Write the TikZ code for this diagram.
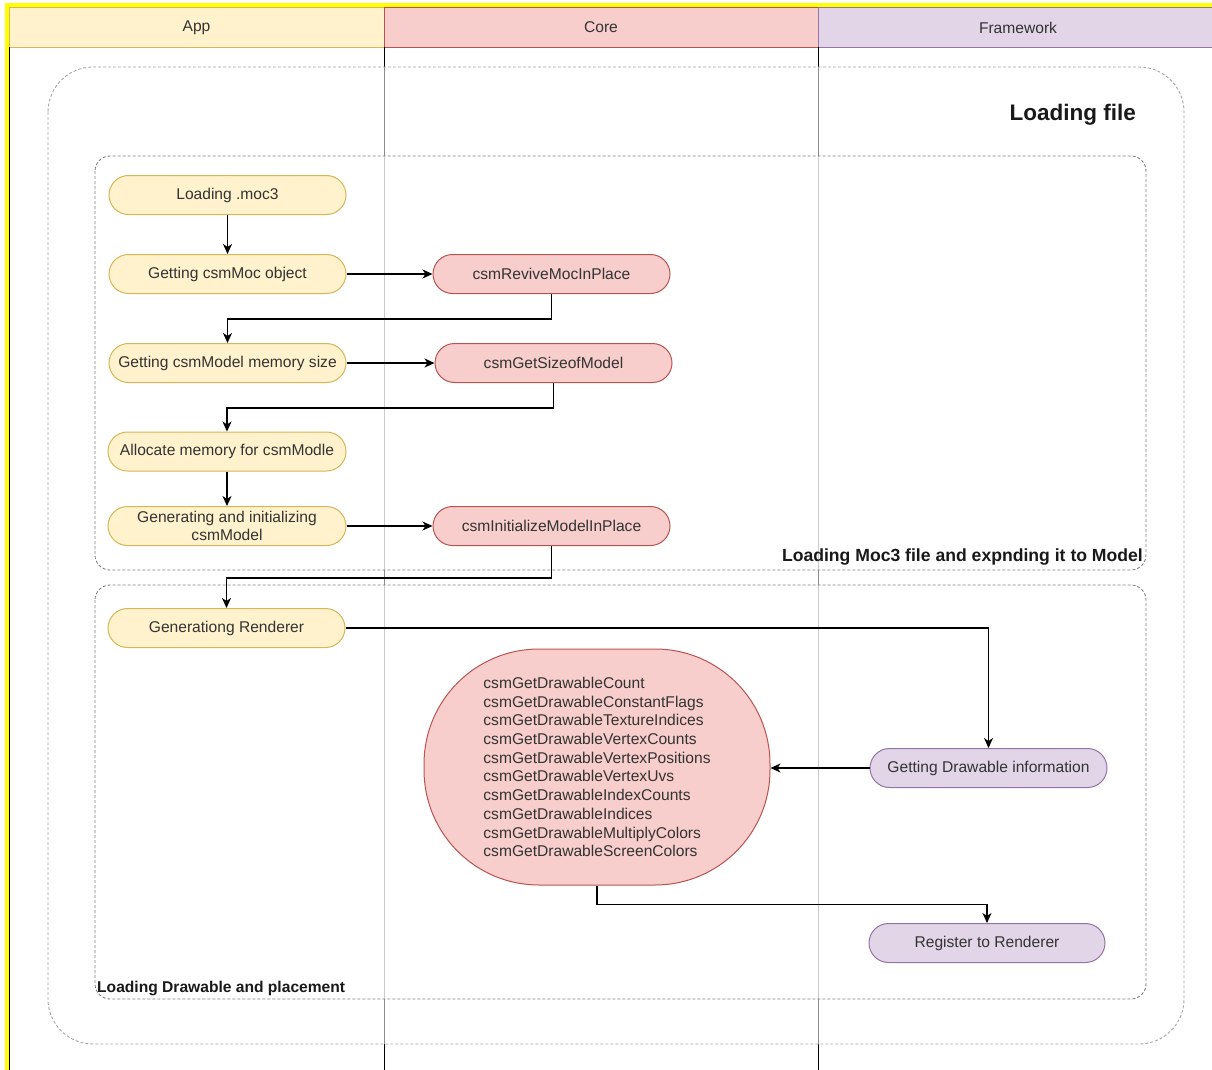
\documentclass[tikz,border=0pt]{standalone}
\usepackage{fontspec}
\setmainfont{Liberation Sans}
\usetikzlibrary{arrows.meta}
\definecolor{appfill}{HTML}{FFF2CC}\definecolor{appdraw}{HTML}{D6B656}
\definecolor{corefill}{HTML}{F8CECC}\definecolor{coredraw}{HTML}{B85450}
\definecolor{fwfill}{HTML}{E1D5E7}\definecolor{fwdraw}{HTML}{9673A6}
\definecolor{txt}{HTML}{333333}
\definecolor{frameyellow}{HTML}{FFFF00}
\tikzset{
  base/.style={font=\fontsize{15.6}{18.7}\selectfont, text=txt},
  pill/.style={base, rectangle, rounded corners=19.5pt, minimum width=237pt, minimum height=39pt, inner sep=0pt, line width=1pt, align=center},
  appnode/.style={pill, fill=appfill, draw=appdraw},
  corenode/.style={pill, fill=corefill, draw=coredraw},
  fwnode/.style={pill, fill=fwfill, draw=fwdraw},
  lanehead/.style={base, rectangle, minimum height=39.5pt, inner sep=0pt, line width=1pt},
  arr/.style={line width=1.6pt, black, -{Stealth[length=10pt,width=9pt,inset=3pt]}},
  group/.style={dashed, dash pattern=on 3pt off 2pt, line width=0.9pt, fill=white, fill opacity=0.55},
  grouplabel/.style={font=\bfseries\fontsize{15.6}{18.7}\selectfont, text=black!90, inner sep=0pt},
}
\begin{document}
\begin{tikzpicture}[x=1pt,y=-1pt]
\useasboundingbox (0,0) rectangle (1212,1070);
% yellow frame
\draw[frameyellow, line width=4pt] (7,1072) -- (7,5) -- (1214,5);
% lane headers
\node[lanehead, fill=appfill, draw=appdraw, minimum width=375pt] (happ) at (196.5,27.5) {App};
\node[lanehead, fill=corefill, draw=coredraw, minimum width=434pt] (hcore) at (601,27.5) {Core};
\node[lanehead, fill=fwfill, draw=fwdraw, minimum width=400pt] (hfw) at (1018,27.5) {Framework};
% lane lines
\draw[black, line width=1.2pt] (9.5,47) -- (9.5,1072);
\draw[black, line width=1pt] (384,47) -- (384,1072);
\draw[black, line width=1pt] (818,47) -- (818,1072);
% groups
\draw[group, draw=black!35, rounded corners=45pt] (48,67) rectangle (1184,1044);
\node[font=\bfseries\fontsize{22.5}{26}\selectfont, text=black!90, anchor=east, inner sep=0pt] (title) at (1136,115) {Loading file};
\draw[group, draw=black!50, rounded corners=15pt] (95,156) rectangle (1146,570);
\node[grouplabel, font=\bfseries\fontsize{17.6}{20}\selectfont, anchor=east] (g1label) at (1143,556.5) {Loading Moc3 file and expnding it to Model};
\draw[group, draw=black!50, rounded corners=15pt] (95,585) rectangle (1146,999);
\node[grouplabel, anchor=west] (g2label) at (97,988) {Loading Drawable and placement};
% nodes
\node[appnode] (load) at (227.5,195) {Loading .moc3};
\node[appnode] (getmoc) at (227.5,274) {Getting csmMoc object};
\node[corenode] (revive) at (551.5,274) {csmReviveMocInPlace};
\node[appnode] (getsize) at (227.5,363) {Getting csmModel memory size};
\node[corenode] (sizeof) at (553.5,363) {csmGetSizeofModel};
\node[appnode, minimum width=238pt] (alloc) at (227,451.5) {Allocate memory for csmModle};
\node[appnode, minimum width=238pt] (geninit) at (227,526) {Generating and initializing\\csmModel};
\node[corenode] (initmodel) at (551.5,526) {csmInitializeModelInPlace};
\node[appnode] (genrend) at (226.5,628) {Generationg Renderer};
\node[base, rectangle, rounded corners=115pt, fill=corefill, draw=coredraw, line width=1pt, minimum width=346pt, minimum height=236pt, align=left, inner sep=0pt] (drawfuncs) at (597,767) {csmGetDrawableCount\\csmGetDrawableConstantFlags\\csmGetDrawableTextureIndices\\csmGetDrawableVertexCounts\\csmGetDrawableVertexPositions\\csmGetDrawableVertexUvs\\csmGetDrawableIndexCounts\\csmGetDrawableIndices\\csmGetDrawableMultiplyColors\\csmGetDrawableScreenColors};
\node[fwnode] (getdraw) at (988.5,768) {Getting Drawable information};
\node[fwnode, minimum width=236pt] (reg) at (987,943) {Register to Renderer};
% connectors
\draw[arr] (load.south) -- (getmoc.north);
\draw[arr] (getmoc.east) -- (revive.west);
\draw[arr] (revive.south) -- ++(0,25) -| (getsize.north);
\draw[arr] (getsize.east) -- (sizeof.west);
\draw[arr] (sizeof.south) -- ++(0,25) -| (alloc.north);
\draw[arr] (alloc.south) -- (geninit.north);
\draw[arr] (geninit.east) -- (initmodel.west);
\draw[arr] (initmodel.south) -- ++(0,32) -| (genrend.north);
\draw[arr] (genrend.east) -| (getdraw.north);
\draw[arr] (getdraw.west) -- (getdraw.west -| drawfuncs.east);
\draw[arr] (drawfuncs.south) -- ++(0,19) -| (reg.north);
\end{tikzpicture}
\end{document}
